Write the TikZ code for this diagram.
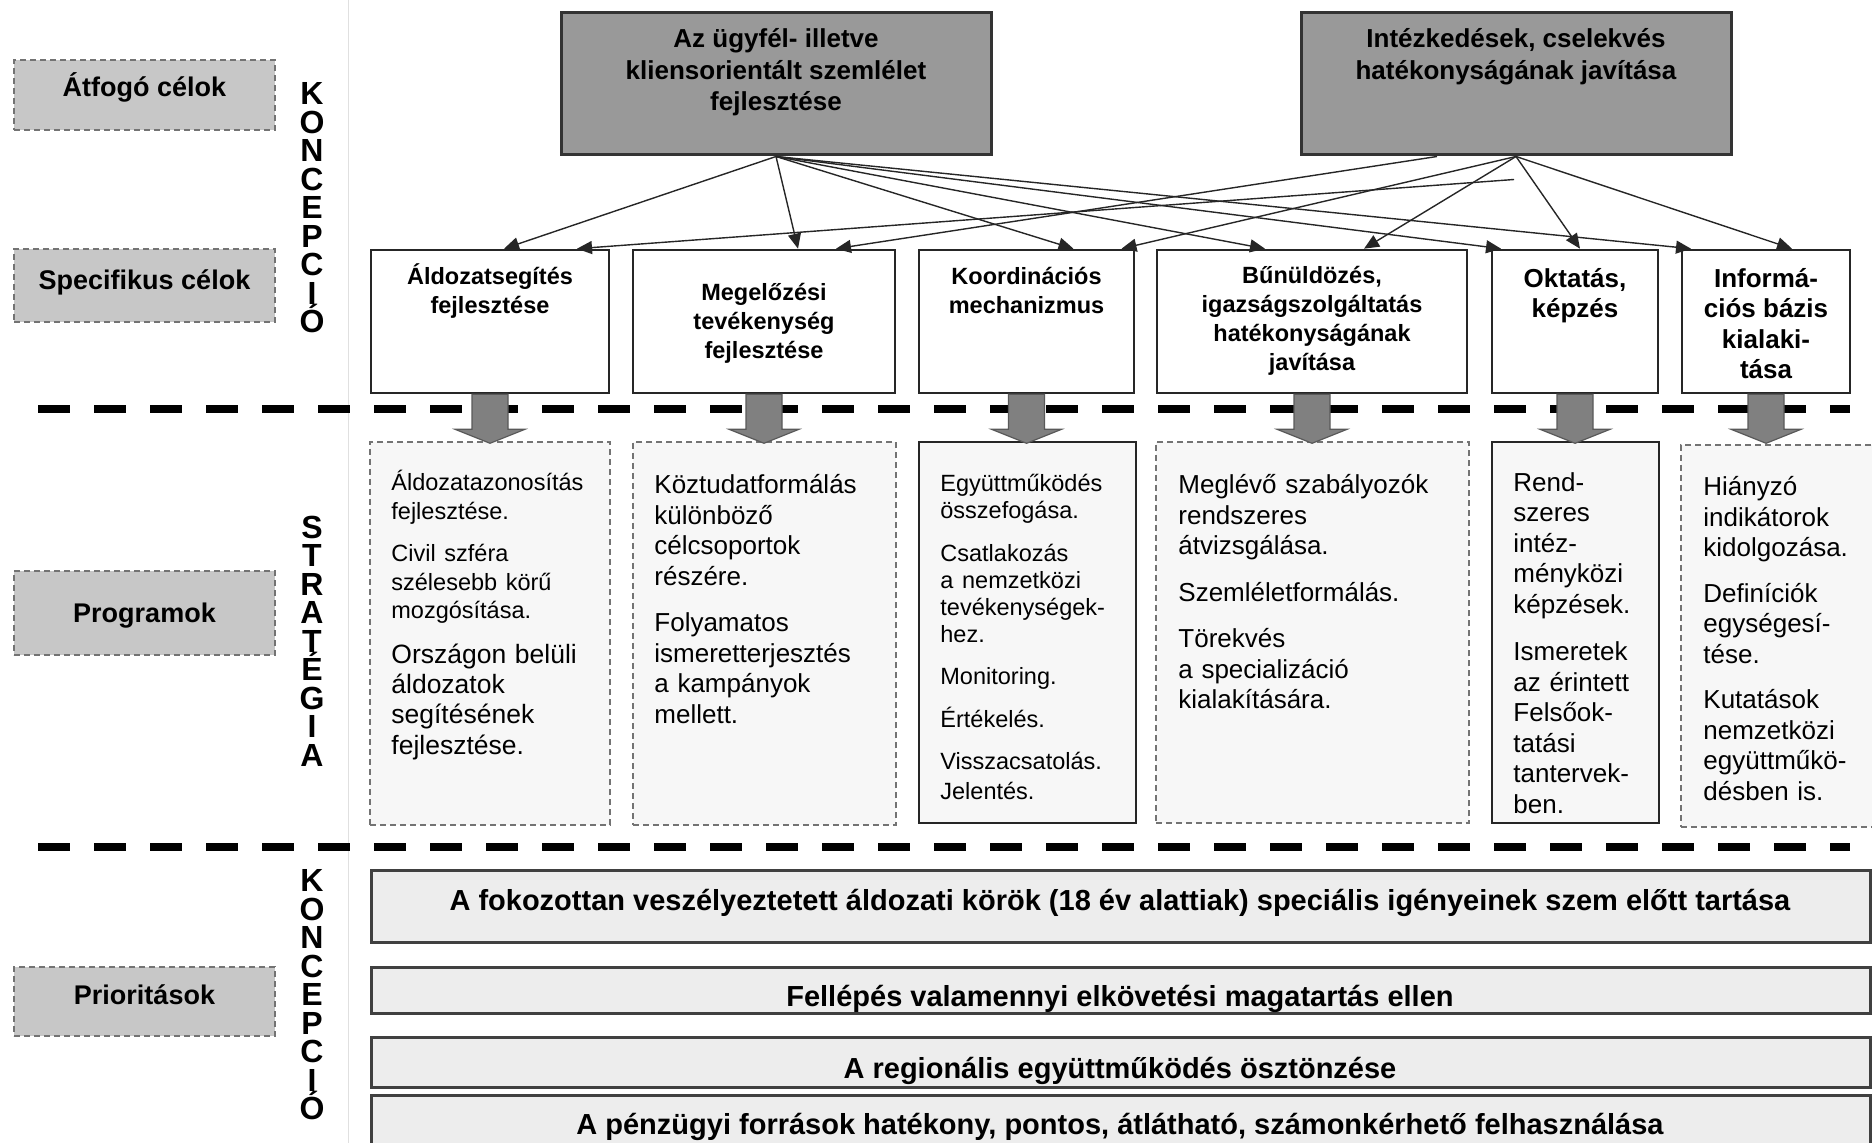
\documentclass[tikz,border=0pt]{standalone}
\usepackage{fontspec}
\setmainfont{Liberation Sans}
\usetikzlibrary{positioning,fit,calc,arrows.meta}
\setlength{\parindent}{0pt}
\newcommand{\fsz}[2]{\fontsize{#1}{#2}\selectfont}

\begin{document}
\begin{tikzpicture}[x=0.5pt,y=-0.5pt,
  labelbox/.style={fill=black!22,draw=black!55,densely dashed,line width=0.8pt,inner sep=0pt},
  labeltext/.style={inner sep=0pt,font=\bfseries\fsz{13.5}{16}},
  goalbox/.style={fill=black!40,draw=black!80,line width=1.5pt,inner sep=0pt},
  goaltext/.style={align=center,inner sep=0pt,font=\bfseries\fsz{13}{15.75}},
  specbox/.style={fill=white,draw=black!85,line width=1.3pt,inner sep=0pt},
  spectext/.style={align=center,inner sep=0pt,font=\bfseries\fsz{11.75}{14.5}},
  specbig/.style={spectext,font=\bfseries\fsz{13}{15.25}},
  progbox/.style={fill=black!3,draw=black!55,densely dashed,line width=0.7pt,inner sep=0pt},
  progsolid/.style={progbox,solid,draw=black!85,line width=1.2pt},
  progtext/.style={anchor=north west,align=left,inner sep=0pt,text width=#1,font=\fsz{13}{15.25}},
  priobox/.style={fill=black!7,draw=black!75,line width=1.5pt,inner sep=0pt},
  priotext/.style={anchor=base,inner sep=0pt,font=\bfseries\fsz{14.5}{17}},
  vertword/.style={align=center,inner sep=0pt,font=\bfseries\fsz{16}{14.25}},
  sepline/.style={line width=4pt,dash pattern=on 16pt off 12pt},
  link/.style={draw=black!85,line width=0.7pt,-{Triangle[length=7.5pt,width=6.5pt]}},
  downarrow/.style={fill=black!50,draw=black!65,line width=0.6pt}]

  \useasboundingbox (0,0) rectangle (1872,1143);
  \draw[black!12,line width=0.5pt] (348,0) -- (348,1143);

  \node[labelbox,fit={(14,60) (275,130)}] (atfogo) {};
  \node[labeltext] (atfogoText) at ($(atfogo.center)+(0,-8)$) {Átfogó célok};
  \node[labelbox,fit={(14,249) (275,322)}] (specifikus) {};
  \node[labeltext] (specifikusText) at ($(specifikus.center)+(0,-3)$) {Specifikus célok};
  \node[labelbox,fit={(14,571) (275,655)}] (programok) {};
  \node[labeltext] (programokText) at ($(programok.center)+(0,3)$) {Programok};
  \node[labelbox,fit={(14,967) (275,1036)}] (prioritasok) {};
  \node[labeltext] (prioritasokText) at ($(prioritasok.center)+(0,-7)$) {Prioritások};

  \node[vertword] (koncepcioTop) at (312,208) {K\\O\\N\\C\\E\\P\\C\\I\\Ó};
  \node[vertword] (strategia) at (312,641) {S\\T\\R\\A\\T\\É\\G\\I\\A};
  \node[vertword] (koncepcioBottom) at (312,995) {K\\O\\N\\C\\E\\P\\C\\I\\Ó};

  \node[goalbox,fit={(561,13) (991,155)}] (ugyfel) {};
  \node[goaltext,below=8.5pt of ugyfel.north] (ugyfelText) {Az ügyfél- illetve\\kliensorientált szemlélet\\fejlesztése};
  \node[goalbox,fit={(1301,13) (1731,155)}] (intezkedes) {};
  \node[goaltext,below=8.5pt of intezkedes.north] (intezkedesText) {Intézkedések, cselekvés\\hatékonyságának javítása};

  \node[specbox,fit={(371,250) (609,393)}] (spec1) {};
  \node[spectext,below=7.5pt of spec1.north] (spec1Text) {Áldozatsegítés\\fejlesztése};
  \node[specbox,fit={(633,250) (895,393)}] (spec2) {};
  \node[spectext,below=17pt of spec2.north] (spec2Text) {Megelőzési\\tevékenység\\fejlesztése};
  \node[specbox,fit={(919,250) (1134,393)}] (spec3) {};
  \node[spectext,below=9pt of spec3.north] (spec3Text) {Koordinációs\\mechanizmus};
  \node[specbox,fit={(1157,250) (1467,393)}] (spec4) {};
  \node[spectext,below=8.5pt of spec4.north] (spec4Text) {Bűnüldözés,\\igazságszolgáltatás\\hatékonyságának\\javítása};
  \node[specbox,fit={(1492,250) (1658,393)}] (spec5) {};
  \node[specbig,below=9.5pt of spec5.north] (spec5Text) {Oktatás,\\képzés};
  \node[specbox,fit={(1682,250) (1850,393)}] (spec6) {};
  \node[specbig,below=9.5pt of spec6.north] (spec6Text) {Informá-\\ciós bázis\\kialaki-\\tása};

  \node[progbox,fit={(370,442) (610,825)}] (prog1) {};
  \node[progtext=105pt] (prog1Text) at (391,470) {\fsz{11.75}{14.25}Áldozatazonosítás\\fejlesztése.\\[7pt]Civil szféra\\szélesebb körű\\mozgósítása.\\[7.5pt]\fsz{13.25}{15}Országon belüli\\áldozatok\\segítésének\\fejlesztése.};
  \node[progbox,fit={(633,442) (896,825)}] (prog2) {};
  \node[progtext=116pt] (prog2Text) at (654,474) {Köztudatformálás\\különböző\\célcsoportok\\részére.\\[8pt]Folyamatos\\ismeretterjesztés\\a kampányok\\mellett.};
  \node[progsolid,fit={(919,442) (1136,823)}] (prog3) {};
  \node[progtext=95pt] (prog3Text) at (940,474) {\fsz{11.75}{13.6}Együttműködés\\összefogása.\\[7.5pt]Csatlakozás\\a nemzetközi\\tevékenységek-\\hez.\\[7.5pt]Monitoring.\\[7.5pt]Értékelés.\\[7.5pt]Visszacsatolás.\\Jelentés.};
  \node[progbox,fit={(1156,442) (1469,823)}] (prog4) {};
  \node[progtext=140pt] (prog4Text) at (1178,474) {Meglévő szabályozók\\rendszeres\\átvizsgálása.\\[8pt]Szemléletformálás.\\[8pt]Törekvés\\a specializáció\\kialakítására.};
  \node[progsolid,fit={(1492,442) (1659,823)}] (prog5) {};
  \node[progtext=70pt] (prog5Text) at (1513,472) {Rend-\\szeres\\intéz-\\ményközi\\képzések.\\[8.5pt]Ismeretek\\az érintett\\Felsőok-\\tatási\\tantervek-\\ben.};
  \node[progbox,fit={(1681,445) (1890,827)}] (prog6) {};
  \node[progtext=85pt] (prog6Text) at (1703,476) {Hiányzó\\indikátorok\\kidolgozása.\\[7.5pt]Definíciók\\egységesí-\\tése.\\[7.5pt]Kutatások\\nemzetközi\\együttműkö-\\désben is.};

  \node[priobox,fit={(371,870) (1870,942)}] (prio1) {};
  \node[priotext] (prio1Text) at (1120,910) {A fokozottan veszélyeztetett áldozati körök (18 év alattiak) speciális igényeinek szem előtt tartása};
  \node[priobox,fit={(371,967) (1870,1013)}] (prio2) {};
  \node[priotext] (prio2Text) at (1120,1006) {Fellépés valamennyi elkövetési magatartás ellen};
  \node[priobox,fit={(371,1037) (1870,1087)}] (prio3) {};
  \node[priotext] (prio3Text) at (1120,1078) {A regionális együttműködés ösztönzése};
  \node[priobox,fit={(371,1095) (1870,1170)}] (prio4) {};
  \node[priotext] (prio4Text) at (1120,1134) {A pénzügyi források hatékony, pontos, átlátható, számonkérhető felhasználása};

  \draw[sepline] (38,409) -- (1850,409);
  \draw[sepline] (38,847) -- (1850,847);

  \foreach \s in {spec1,spec2,spec3,spec4,spec5,spec6}
    \draw[downarrow] (\s.south) ++(-18,0) -- ++(0,35) -- ++(-17,0) -- ++(35,14) -- ++(35,-14) -- ++(-17,0) -- ++(0,-35) -- cycle;

  \coordinate (looseEnd) at ($(intezkedes.south)+(-2,23)$);
  \draw[link] (ugyfel.south) -- ($(spec1.north)+(14,0)$);
  \draw[link] (ugyfel.south) -- ($(spec2.north)+(34,0)$);
  \draw[link] (ugyfel.south) -- ($(spec3.north)+(47,0)$);
  \draw[link] (ugyfel.south) -- ($(spec4.north)+(-47,0)$);
  \draw[link] (ugyfel.south) -- ($(spec5.north)+(-74,0)$);
  \draw[link] (ugyfel.south) -- ($(spec6.north)+(-75,0)$);
  \draw[link] (looseEnd) -- ($(spec1.north)+(87,0)$);
  \draw[link] ($(intezkedes.south)+(-79,0)$) -- ($(spec2.north)+(72,0)$);
  \draw[link] (intezkedes.south) -- ($(spec3.north)+(95,0)$);
  \draw[link] (intezkedes.south) -- ($(spec4.north)+(52,0)$);
  \draw[link] (intezkedes.south) -- ($(spec5.north)+(5,0)$);
  \draw[link] (intezkedes.south) -- ($(spec6.north)+(26,0)$);
\end{tikzpicture}
\end{document}
